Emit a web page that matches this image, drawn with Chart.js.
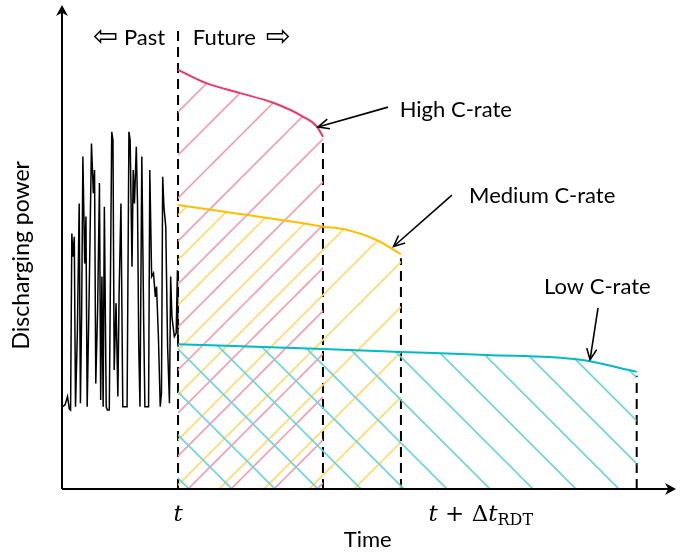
<!DOCTYPE html>
<html>
<head>
<meta charset="utf-8">
<script src="https://cdn.jsdelivr.net/npm/chart.js@4.4.1/dist/chart.umd.min.js"></script>
<style>
  body { margin: 0; background: #fff; }
  canvas { display: block; }
</style>
</head>
<body>
<canvas id="myChart" width="689" height="552"></canvas>
<script>
// past measured discharging power (black trace)
const histTime = [0.1,0.5,0.9,1.2,1.4,1.6,1.8,2.0,2.2,2.5,2.8,3.0,3.2,3.4,3.7,3.9,4.1,4.4,4.8,5.1,5.3,5.5,5.8,6.1,6.3,6.5,6.7,6.9,7.2,7.4,7.7,8.1,8.3,8.5,8.8,9.1,9.3,9.6,9.9,10.3,10.6,10.9,11.1,11.4,11.6,11.8,12.1,12.3,12.5,12.7,13.0,13.3,13.5,13.8,14.1,14.3,14.6,14.9,15.2,15.4,15.7,16.0,16.2,16.4,16.6,16.9,17.2,17.5,17.7,17.9,18.1,18.3,18.6,18.8,18.9]
const histPower = [17.0,17.4,19.1,16.5,16.3,52.8,48.0,52.1,17.0,32.2,59.0,17.7,36.3,68.7,46.6,56.3,17.0,38.4,71.4,61.1,65.9,21.8,37.0,63.2,18.4,43.9,17.0,58.3,17.0,16.3,16.3,73.8,72.1,24.6,38.4,19.1,40.4,59.0,17.0,17.0,17.0,73.8,72.1,45.9,65.9,59.0,70.7,59.0,29.4,17.0,68.7,34.9,17.0,17.0,17.0,65.9,43.9,44.6,39.7,41.8,31.5,17.0,19.8,64.5,58.3,54.2,29.4,17.7,43.9,35.6,33.5,31.5,32.2,45.2,29.4]

// future power for each C-rate
const highTime = [18.9,23.6,29.0,34.4,39.3,41.5,42.5]
const highPower = [86.6,83.8,81.8,79.8,76.9,74.9,72.8]
const mediumTime = [18.9,29.0,38.8,42.5,45.8,51.3,55.2]
const mediumPower = [58.7,56.8,55.0,54.2,53.7,51.4,48.5]
const lowTime = [18.9,42.5,55.2,69.2,84.4,93.6]
const lowPower = [29.9,28.9,28.3,27.7,26.7,24.2]

const tNow = 18.9

function pts(xs, ys){
  return xs.map((x,i)=>({x:x, y:ys[i]}))
}

// diagonal hatch tile, dir '/' or '\'
function hatch(color, size, offset, dir){
  const c = document.createElement('canvas')
  c.width = size; c.height = size
  const g = c.getContext('2d')
  g.strokeStyle = color
  g.lineWidth = 1.6
  for(let k=-2;k<=2;k++){
    const d = offset + k*size
    g.beginPath()
    if(dir=='/'){
      g.moveTo(d+2*size, -2*size); g.lineTo(d-2*size, 2*size)
    } else {
      g.moveTo(d-2*size, -2*size); g.lineTo(d+2*size, 2*size)
    }
    g.stroke()
  }
  return g.createPattern(c,'repeat')
}

const ctx = document.getElementById('myChart').getContext('2d')
const pinkHatch = hatch('rgb(241,158,180)', 43, 32, '/')
const yellowHatch = hatch('rgb(255,218,110)', 45, 33, '/')
const cyanHatch = hatch('rgb(110,212,218)', 43, 1, '\\')

function vline(x, top){
  return {
    data: [{x:x,y:0},{x:x,y:top}],
    borderColor: '#000', borderWidth: 2, borderDash: [10,6],
    pointRadius: 0, fill: false, tension: 0
  }
}

const FONT = 'Lato, "Open Sans", sans-serif'

function arrowHead(c, x1, y1, x2, y2, len, half, filled){
  const a = Math.atan2(y2-y1, x2-x1)
  c.beginPath()
  c.moveTo(x2 - len*Math.cos(a) + half*Math.sin(a), y2 - len*Math.sin(a) - half*Math.cos(a))
  c.lineTo(x2, y2)
  c.lineTo(x2 - len*Math.cos(a) - half*Math.sin(a), y2 - len*Math.sin(a) + half*Math.cos(a))
  if(filled){
    c.lineTo(x2 - 0.7*len*Math.cos(a), y2 - 0.7*len*Math.sin(a))
    c.closePath(); c.fill()
  } else c.stroke()
}

const decor = {
  id: 'decor',
  afterDraw(chart){
    const c = chart.ctx, xs = chart.scales.x, ys = chart.scales.y
    const X = v=>xs.getPixelForValue(v), Y = v=>ys.getPixelForValue(v)
    const a = chart.chartArea
    c.save()
    c.strokeStyle = '#000'; c.fillStyle = '#000'
    // axes
    c.lineWidth = 2
    c.beginPath(); c.moveTo(a.left, a.bottom); c.lineTo(a.right-4, a.bottom); c.stroke()
    c.beginPath(); c.moveTo(a.left, a.bottom); c.lineTo(a.left, a.top+4); c.stroke()
    arrowHead(c, a.left, a.bottom, a.right, a.bottom, 11, 6, true)
    arrowHead(c, a.left, a.bottom, a.left, a.top, 11, 6, true)

    // annotation arrows
    c.lineWidth = 1.6
    const arrows = [[53.1,78.9,41.7,74.8],[63.5,60.7,54.0,50.1],[87.3,37.4,86.0,26.7]]
    arrows.forEach(r=>{
      const x1=X(r[0]), y1=Y(r[1]), x2=X(r[2]), y2=Y(r[3])
      c.beginPath(); c.moveTo(x1,y1); c.lineTo(x2,y2); c.stroke()
      arrowHead(c, x1, y1, x2, y2, 11, 5, false)
    })

    // labels
    c.font = '22px ' + FONT
    c.textBaseline = 'alphabetic'
    c.textAlign = 'left'
    c.fillText('High C-rate', X(55.0), Y(76.9))
    c.fillText('Medium C-rate', X(66.3), Y(59.1))
    c.fillText('Low C-rate', X(78.5), Y(40.3))
    c.textAlign = 'right'
    c.fillText('Past', X(16.8), Y(91.7))
    c.textAlign = 'left'
    c.fillText('Future', X(21.3), Y(91.7))
    c.font = '30px "DejaVu Sans"'
    c.textAlign = 'right'
    c.fillText('\u21E6', X(16.8)-47, Y(91.7)+1)
    c.textAlign = 'left'
    c.fillText('\u21E8', X(21.3)+73, Y(91.7)+1)

    // x axis text
    c.font = '22px ' + FONT
    c.textAlign = 'center'
    c.fillText('Time', X(49.8), a.bottom+58)
    c.font = 'italic 23px "DejaVu Serif", serif'
    c.fillText('t', X(tNow), a.bottom+32)
    c.textAlign = 'left'
    let x0 = X(59.7)
    c.fillText('t', x0, a.bottom+32)
    x0 += c.measureText('t').width
    c.font = '23px "DejaVu Serif", serif'
    c.fillText(' + \u0394', x0, a.bottom+32)
    x0 += c.measureText(' + \u0394').width
    c.font = 'italic 23px "DejaVu Serif", serif'
    c.fillText('t', x0, a.bottom+32)
    x0 += c.measureText('t').width
    c.font = '16px "DejaVu Serif", serif'
    c.fillText('RDT', x0, a.bottom+36)

    // y axis title
    c.save()
    c.translate(22, Y(48.3))
    c.rotate(-Math.PI/2)
    c.font = '23px ' + FONT
    c.textAlign = 'center'
    c.textBaseline = 'middle'
    c.fillText('Discharging power', 0, 0)
    c.restore()
    c.restore()
  }
}

const config = {
  type: 'line',
  data: {
    datasets: [
      { data: pts(lowTime, lowPower), borderColor: 'rgb(0,186,196)', borderWidth: 2,
        backgroundColor: cyanHatch, fill: 'origin', pointRadius: 0, cubicInterpolationMode: 'monotone' },
      { data: pts(mediumTime, mediumPower), borderColor: 'rgb(255,190,0)', borderWidth: 2,
        backgroundColor: yellowHatch, fill: 'origin', pointRadius: 0, cubicInterpolationMode: 'monotone' },
      { data: pts(highTime, highPower), borderColor: 'rgb(232,56,108)', borderWidth: 2,
        backgroundColor: pinkHatch, fill: 'origin', pointRadius: 0, cubicInterpolationMode: 'monotone' },
      { data: pts(histTime, histPower), borderColor: '#000', borderWidth: 1.5,
        pointRadius: 0, fill: false, tension: 0 },
      vline(tNow, 95.2),
      vline(highTime[highTime.length-1], highPower[highPower.length-1]-0.8),
      vline(mediumTime[mediumTime.length-1], mediumPower[mediumPower.length-1]-0.8),
      vline(lowTime[lowTime.length-1], lowPower[lowPower.length-1]-0.8)
    ]
  },
  options: {
    responsive: false,
    animation: false,
    layout: { padding: { left: 62, right: 13, top: 5, bottom: 63 } },
    scales: {
      x: { type: 'linear', min: 0, max: 100, display: false },
      y: { min: 0, max: 100, display: false }
    },
    plugins: { legend: { display: false }, tooltip: { enabled: false } }
  },
  plugins: [decor]
}

const myChart = new Chart(ctx, config)
</script>
</body>
</html>
